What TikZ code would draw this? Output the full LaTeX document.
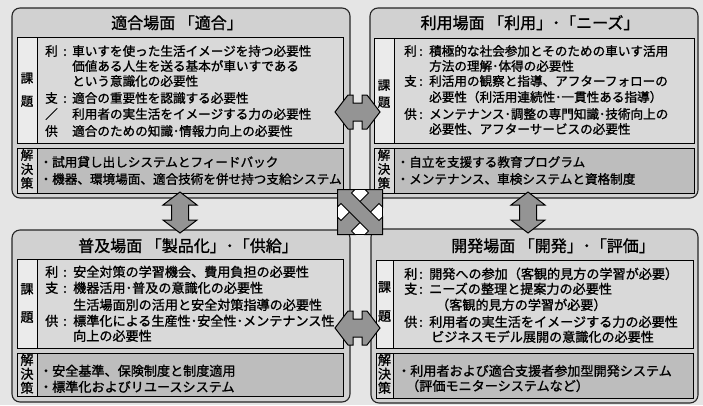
\documentclass[tikz,border=0pt]{standalone}
\usepackage{fontspec}
\setmainfont{Noto Sans CJK JP}[FakeBold=1.2]
\definecolor{bgc}{gray}{0.90}
\definecolor{panelc}{gray}{0.82}
\definecolor{kadaic}{gray}{0.85}
\definecolor{labc}{gray}{0.92}
\definecolor{solc}{gray}{0.74}
\definecolor{slabc}{gray}{0.85}
\definecolor{arrc}{gray}{0.58}
\newcommand\ftop{\fontsize{12.6}{14}\selectfont}
\newcommand\fbot{\fontsize{13.1}{15}\selectfont}
\newcommand\ftitle{\fontsize{16}{18}\selectfont}
\begin{document}
\begin{tikzpicture}[x=1pt,y=-1pt]
\tikzset{
  panel/.style={draw=black!85, line width=1.1pt, rounded corners=8pt, fill=panelc},
  boxline/.style={draw=black, line width=0.9pt},
  txt/.style={anchor=west, inner sep=0pt, text height=.88em, text depth=.12em},
  ctr/.style={anchor=center, inner sep=0pt, text height=.88em, text depth=.12em},
  ttl/.style={ctr, font=\ftitle},
  arrowst/.style={draw=black, line width=1pt, fill=arrc, line join=miter},
}
% background / bounding box
\fill[bgc] (0,0) rectangle (703,405);
\useasboundingbox (0,0) rectangle (703,405);

% ================= panels =================
\draw[panel] (12,8) rectangle (350,198);
\draw[panel] (370,8) rectangle (698,198);
\draw[panel] (12,230) rectangle (350,402);
\draw[panel] (371,229) rectangle (698,403);

% ---------- top-left ----------
\node[ttl] (t1) at (177,25) {適合場面 「適合」};
\fill[kadaic] (17,37) rectangle (343,143);
\fill[labc] (17,37) rectangle (37,143);
\draw[boxline] (17,37) rectangle (343,143) (37,37) -- (37,143);
\fill[solc] (17,148) rectangle (343,193);
\fill[slabc] (17,148) rectangle (37,193);
\draw[boxline] (17,148) rectangle (343,193) (37,148) -- (37,193);
\begin{scope}[every node/.append style={font=\ftop}]
\node[ctr] (k1a) at (27,79) {課};
\node[ctr] (k1b) at (27,102) {題};
\node[ctr] (s1a) at (27,156) {解};
\node[ctr] (s1b) at (27,170) {決};
\node[ctr] (s1c) at (27,184) {策};
\node[txt] (a1) at (45,52) {利};
\node[ctr] (a1c) at (65,52) {:};
\node[txt] (a1t) at (72,52) {車いすを使った生活イメージを持つ必要性};
\node[txt] (a2t) at (72,67) {価値ある人生を送る基本が車いすである};
\node[txt] (a3t) at (72,82) {という意識化の必要性};
\node[txt] (a4) at (45,99) {支};
\node[ctr] (a4c) at (65,99) {:};
\node[txt] (a4t) at (72,99) {適合の重要性を認識する必要性};
\node[txt] (a5) at (45,115) {／};
\node[txt] (a5t) at (72,115) {利用者の実生活をイメージする力の必要性};
\node[txt] (a6) at (45,132) {供};
\node[txt] (a6t) at (72,132) {適合のための知識･情報力向上の必要性};
\node[ctr] (b1d) at (46,163) {・};
\node[txt] (b1t) at (52,163) {試用貸し出しシステムとフィードバック};
\node[ctr] (b2d) at (46,180) {・};
\node[txt] (b2t) at (52,180) {機器、環境場面、適合技術を併せ持つ支給システム};
\end{scope}

% ---------- top-right ----------
\node[ttl] (t2) at (530,25) {利用場面 「利用」･「ニーズ」};
\fill[kadaic] (374,38) rectangle (694,143);
\fill[labc] (374,38) rectangle (394,143);
\draw[boxline] (374,38) rectangle (694,143) (394,38) -- (394,143);
\fill[solc] (374,148) rectangle (694,193);
\fill[slabc] (374,148) rectangle (394,193);
\draw[boxline] (374,148) rectangle (694,193) (394,148) -- (394,193);
\begin{scope}[every node/.append style={font=\ftop}]
\node[ctr] (k2a) at (384,86) {課};
\node[ctr] (k2b) at (384,103) {題};
\node[ctr] (s2a) at (384,156) {解};
\node[ctr] (s2b) at (384,170) {決};
\node[ctr] (s2c) at (384,184) {策};
\node[txt] (c1) at (404,52) {利};
\node[ctr] (c1c) at (421,52) {:};
\node[txt] (c1t) at (429,52) {積極的な社会参加とそのための車いす活用};
\node[txt] (c2t) at (429,67) {方法の理解･体得の必要性};
\node[txt] (c3) at (404,82) {支};
\node[ctr] (c3c) at (421,82) {:};
\node[txt] (c3t) at (429,82) {利活用の観察と指導、アフターフォローの};
\node[txt] (c4t) at (429,98) {必要性（利活用連続性･一貫性ある指導）};
\node[txt] (c5) at (404,115) {供};
\node[ctr] (c5c) at (421,115) {:};
\node[txt] (c5t) at (429,115) {メンテナンス･調整の専門知識･技術向上の};
\node[txt] (c6t) at (429,130) {必要性、アフターサービスの必要性};
\node[ctr] (d1d) at (403,163) {・};
\node[txt] (d1t) at (409,163) {自立を支援する教育プログラム};
\node[ctr] (d2d) at (403,180) {・};
\node[txt] (d2t) at (409,180) {メンテナンス、車検システムと資格制度};
\end{scope}

% ---------- bottom-left ----------
\node[ttl] (t3) at (188,248) {普及場面 「製品化」･「供給」};
\fill[kadaic] (17,259) rectangle (343,348);
\fill[labc] (17,259) rectangle (37,348);
\draw[boxline] (17,259) rectangle (343,348) (37,259) -- (37,348);
\fill[solc] (17,353) rectangle (343,396);
\fill[slabc] (17,353) rectangle (37,396);
\draw[boxline] (17,353) rectangle (343,396) (37,353) -- (37,396);
\begin{scope}[every node/.append style={font=\fbot}]
\node[ctr] (k3a) at (27,290) {課};
\node[ctr] (k3b) at (27,318) {題};
\node[ctr] (s3a) at (27,361) {解};
\node[ctr] (s3b) at (27,375) {決};
\node[ctr] (s3c) at (27,389) {策};
\node[txt] (e1) at (45,273) {利};
\node[ctr] (e1c) at (65,273) {:};
\node[txt] (e1t) at (73,273) {安全対策の学習機会、費用負担の必要性};
\node[txt] (e2) at (45,289) {支};
\node[ctr] (e2c) at (65,289) {:};
\node[txt] (e2t) at (73,289) {機器活用･普及の意識化の必要性};
\node[txt] (e3t) at (73,306) {生活場面別の活用と安全対策指導の必要性};
\node[txt] (e4) at (45,322) {供};
\node[ctr] (e4c) at (65,322) {:};
\node[txt] (e4t) at (73,322) {標準化による生産性･安全性･メンテナンス性};
\node[txt] (e5t) at (73,337) {向上の必要性};
\node[ctr] (f1d) at (46,372) {・};
\node[txt] (f1t) at (52,372) {安全基準、保険制度と制度適用};
\node[ctr] (f2d) at (46,388) {・};
\node[txt] (f2t) at (52,388) {標準化およびリユースシステム};
\end{scope}

% ---------- bottom-right ----------
\node[ttl] (t4) at (553,248) {開発場面 「開発」･「評価」};
\fill[kadaic] (376,260) rectangle (693,348);
\fill[labc] (376,260) rectangle (393,348);
\draw[boxline] (376,260) rectangle (693,348) (393,260) -- (393,348);
\fill[solc] (376,353) rectangle (693,398);
\fill[slabc] (376,353) rectangle (393,398);
\draw[boxline] (376,353) rectangle (693,398) (393,353) -- (393,398);
\begin{scope}[every node/.append style={font=\fbot}]
\node[ctr] (k4a) at (384.5,288) {課};
\node[ctr] (k4b) at (384.5,317) {題};
\node[ctr] (s4a) at (384.5,361) {解};
\node[ctr] (s4b) at (384.5,375) {決};
\node[ctr] (s4c) at (384.5,389) {策};
\node[txt] (g1) at (404,275) {利};
\node[ctr] (g1c) at (421,275) {:};
\node[txt] (g1t) at (429,275) {開発への参加（客観的見方の学習が必要）};
\node[txt] (g2) at (404,290) {支};
\node[ctr] (g2c) at (421,290) {:};
\node[txt] (g2t) at (429,290) {ニーズの整理と提案力の必要性};
\node[txt] (g3t) at (436,306) {（客観的見方の学習が必要）};
\node[txt] (g4) at (404,323) {供};
\node[ctr] (g4c) at (421,323) {:};
\node[txt] (g4t) at (429,323) {利用者の実生活をイメージする力の必要性};
\node[txt] (g5t) at (431,338) {ビジネスモデル展開の意識化の必要性};
\node[ctr] (h1d) at (404,372) {・};
\node[txt] (h1t) at (410,372) {利用者および適合支援者参加型開発システム};
\node[txt] (h2t) at (406,387) {（評価モニターシステムなど）};
\end{scope}

% ================= arrows =================
% horizontal double arrows
\foreach \yy in {112,328}{
\draw[arrowst] (335,\yy) -- (348,\yy-17) -- (353,\yy-17) -- (353,\yy-9) -- (362,\yy-9)
  -- (362,\yy-17) -- (367,\yy-17) -- (380,\yy) -- (367,\yy+17) -- (362,\yy+17)
  -- (362,\yy+9) -- (353,\yy+9) -- (353,\yy+17) -- (348,\yy+17) -- cycle;
}
% vertical double arrows
\foreach \xx in {180,528}{
\draw[arrowst] (\xx,192) -- (\xx-17,205) -- (\xx-8.5,205) -- (\xx-8.5,220) -- (\xx-17,220)
  -- (\xx,233) -- (\xx+17,220) -- (\xx+8.5,220) -- (\xx+8.5,205) -- (\xx+17,205) -- cycle;
}
% central four-way arrow
\begin{scope}[shift={(360,212)}]
\fill[white] (-22.5,-22.5) rectangle (22.5,22.5);
\draw[arrowst] (-22.5,22.5) -- (-5,22.5) -- (-8.5,19) -- (19,-8.5) -- (22.5,-5) -- (22.5,-22.5)
  -- (5,-22.5) -- (8.5,-19) -- (-19,8.5) -- (-22.5,5) -- cycle;
\draw[arrowst] (22.5,22.5) -- (5,22.5) -- (8.5,19) -- (-19,-8.5) -- (-22.5,-5) -- (-22.5,-22.5)
  -- (-5,-22.5) -- (-8.5,-19) -- (19,8.5) -- (22.5,5) -- cycle;
\draw[line width=1.3pt] (-22.5,-22.5) rectangle (22.5,22.5);
\end{scope}
\end{tikzpicture}
\end{document}
